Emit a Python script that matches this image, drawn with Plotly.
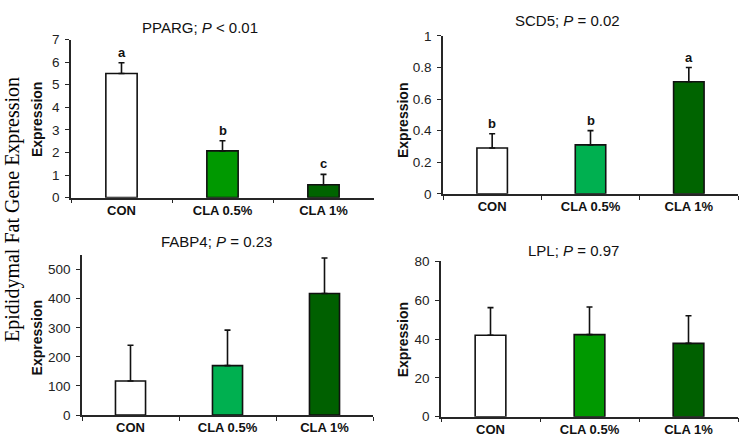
import plotly.graph_objects as go

categories = ["CON", "CLA 0.5%", "CLA 1%"]

pparg_mean = [5.5, 2.07, 0.57]
pparg_err = [0.47, 0.45, 0.46]
pparg_letters = ["a", "b", "c"]

scd5_mean = [0.29, 0.31, 0.71]
scd5_err = [0.09, 0.09, 0.09]
scd5_letters = ["b", "b", "a"]

fabp4_mean = [117, 170, 418]
fabp4_err = [123, 122, 122]

lpl_mean = [42.0, 42.3, 37.8]
lpl_err = [14.2, 14.2, 14.2]

W, H = 740, 445

def px(x):
    return x / W

def py(y):
    return 1 - y / H

panels = [
    dict(name="PPARG", p="&lt; 0.01", mean=pparg_mean, err=pparg_err, letters=pparg_letters,
         colors=["#ffffff", "#009900", "#006400"],
         xd=(71, 374), yd=(197.3, 33.7), rng=[0, 7], dtick=1,
         title_xy=(200, 21), ylab_xy=(37, 117)),
    dict(name="SCD5", p="= 0.02", mean=scd5_mean, err=scd5_err, letters=scd5_letters,
         colors=["#ffffff", "#00b050", "#006400"],
         xd=(443, 738), yd=(193.3, 30), rng=[0, 1], dtick=0.2,
         title_xy=(567, 14), ylab_xy=(403, 118)),
    dict(name="FABP4", p="= 0.23", mean=fabp4_mean, err=fabp4_err, letters=None,
         colors=["#ffffff", "#00b050", "#006000"],
         xd=(82, 373), yd=(422.3, 256.7), rng=[0, 550], dtick=100,
         title_xy=(216, 243), ylab_xy=(37, 343)),
    dict(name="LPL", p="= 0.97", mean=lpl_mean, err=lpl_err, letters=None,
         colors=["#ffffff", "#009900", "#006000"],
         xd=(441, 738), yd=(424, 263.3), rng=[0, 80], dtick=20,
         title_xy=(573, 252), ylab_xy=(403, 345)),
]

fig = go.Figure()
annotations = []
layout_axes = {}
font_fam = "Liberation Sans, Arial, sans-serif"
axcol = "#262626"

for i, pnl in enumerate(panels, start=1):
    xa = "x" if i == 1 else f"x{i}"
    ya = "y" if i == 1 else f"y{i}"
    fig.add_trace(go.Bar(
        x=categories, y=pnl["mean"], xaxis=xa, yaxis=ya,
        width=0.31,
        marker=dict(color=pnl["colors"], line=dict(color="#111111", width=1.6)),
        error_y=dict(type="data", symmetric=False, array=pnl["err"],
                     arrayminus=[0, 0, 0], color="#111111", thickness=1.6, width=3),
        showlegend=False, hoverinfo="skip",
    ))
    xkey = "xaxis" if i == 1 else f"xaxis{i}"
    ykey = "yaxis" if i == 1 else f"yaxis{i}"
    layout_axes[xkey] = dict(
        domain=[px(pnl["xd"][0]), px(pnl["xd"][1])], anchor=ya,
        type="category", tickson="boundaries", ticks="outside", ticklen=4,
        tickwidth=1.3, tickcolor=axcol,
        showline=True, linecolor=axcol, linewidth=1.5, showgrid=False,
        zeroline=False, fixedrange=True,
        tickfont=dict(family=font_fam, size=13, color="#111111", weight="bold"),
    )
    layout_axes[ykey] = dict(
        domain=[py(pnl["yd"][0]), py(pnl["yd"][1])], anchor=xa,
        range=pnl["rng"], dtick=pnl["dtick"], ticks="outside", ticklen=4,
        tickwidth=1.3, tickcolor=axcol, ticklabelstandoff=3,
        showline=True, linecolor=axcol, linewidth=1.5, showgrid=False,
        zeroline=False, fixedrange=True,
        tickfont=dict(family=font_fam, size=13.5, color="#222222"),
    )
    annotations.append(dict(
        text=f"{pnl['name']}; <i>P</i> {pnl['p']}",
        x=px(pnl["title_xy"][0]), y=py(pnl["title_xy"][1]), xref="paper", yref="paper",
        xanchor="center", yanchor="middle", showarrow=False,
        font=dict(family=font_fam, size=15, color="#111111"),
    ))
    annotations.append(dict(
        text="Expression", textangle=-90,
        x=px(pnl["ylab_xy"][0]), y=py(pnl["ylab_xy"][1]), xref="paper", yref="paper",
        xanchor="center", yanchor="middle", showarrow=False,
        font=dict(family=font_fam, size=14, color="#111111", weight="bold"),
    ))
    if pnl["letters"]:
        for c, m, e, l in zip(categories, pnl["mean"], pnl["err"], pnl["letters"]):
            annotations.append(dict(
                text=l, x=c, y=m + e, xref=xa, yref=ya,
                xanchor="center", yanchor="bottom", yshift=1, showarrow=False,
                font=dict(family=font_fam, size=13, color="#111111", weight="bold"),
            ))

annotations.append(dict(
    text="Epididymal Fat Gene Expression", textangle=-90,
    x=px(13), y=py(210), xref="paper", yref="paper",
    xanchor="center", yanchor="middle", showarrow=False,
    font=dict(family="Liberation Serif, Times New Roman, serif", size=20, color="#000000"),
))

fig.update_layout(
    width=W, height=H, margin=dict(l=0, r=0, t=0, b=0),
    paper_bgcolor="white", plot_bgcolor="white",
    annotations=annotations, bargap=0.69,
    **layout_axes,
)

fig.write_html("out.html", config=dict(displayModeBar=False),
               post_script="document.body.style.margin='0';document.body.style.overflow='hidden';")
